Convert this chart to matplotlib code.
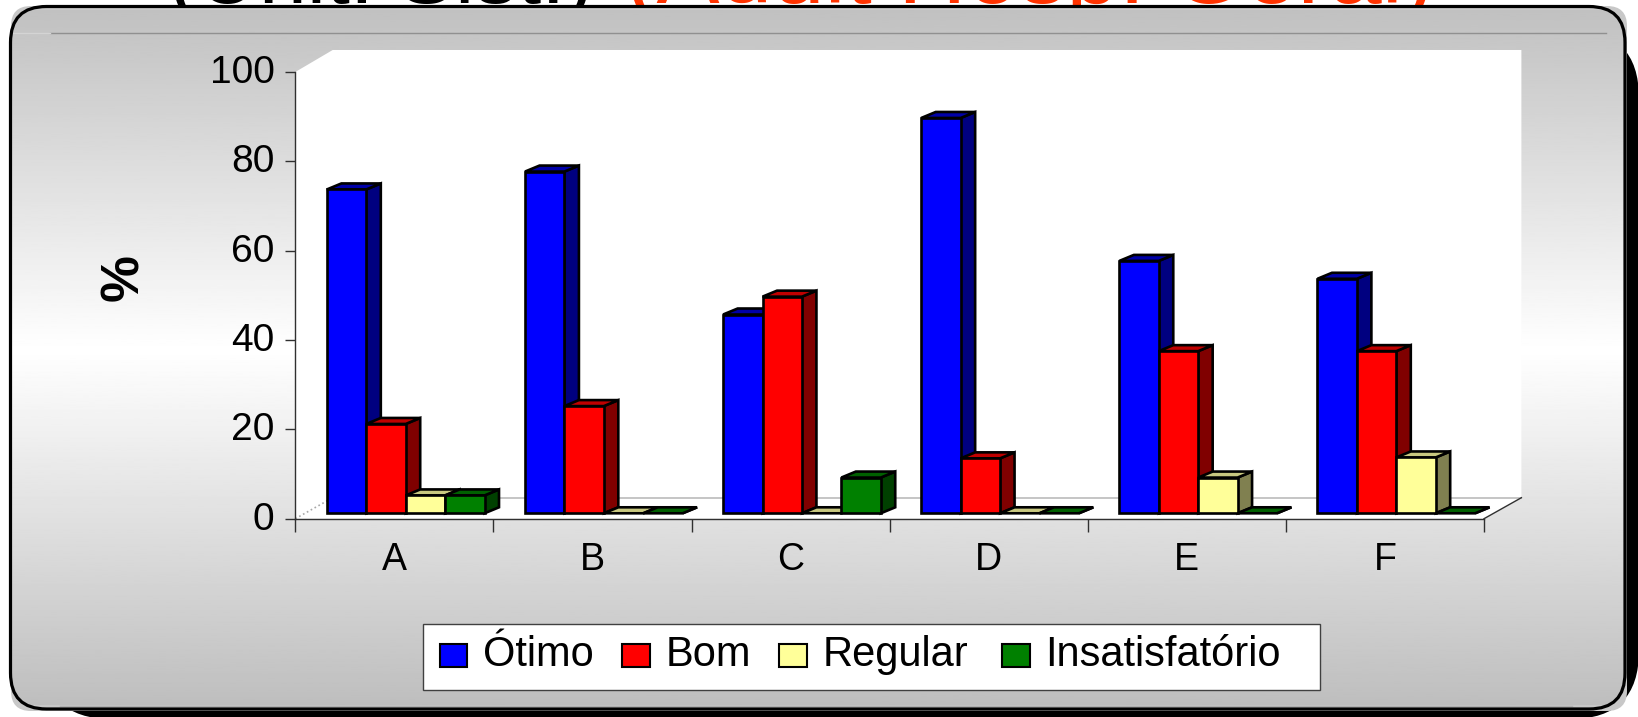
import numpy as np
import matplotlib
matplotlib.use("Agg")
import matplotlib.pyplot as plt
from matplotlib.patches import FancyBboxPatch, Polygon, Rectangle
from matplotlib.transforms import ScaledTranslation

plt.rcParams['font.family'] = ['Liberation Sans', 'DejaVu Sans']

# values
categories = ['A', 'B', 'C', 'D', 'E', 'F']
otimo = [72.5, 76.5, 44.5, 88.5, 56.5, 52.5]
bom = [20, 24, 48.5, 12.3, 36.3, 36.3]
regular = [4, 0, 0, 0, 8, 12.5]
insatisfatorio = [4, 0, 8, 0, 0, 0]
series_names = ['Ótimo', 'Bom', 'Regular', 'Insatisfatório']
y_ticks = [0, 20, 40, 60, 80, 100]

front_colors = ['#0000ff', '#ff0000', '#ffff99', '#008000']
side_colors = ['#000080', '#800000', '#808050', '#004000']
top_colors = ['#0000a8', '#c00000', '#c8c880', '#006000']

W, H = 1638, 717
fig = plt.figure(figsize=(W / 100, H / 100), dpi=100, facecolor='white')

# whole-figure axes in pixels, for the panel behind the chart
bg = fig.add_axes([0, 0, 1, 1])
bg.set_xlim(0, W)
bg.set_ylim(H, 0)
bg.axis('off')


def rounded(x0, y0, x1, y1, r, **kw):
    return FancyBboxPatch((x0 + r, y0 + r), x1 - x0 - 2 * r, y1 - y0 - 2 * r,
                          boxstyle='round,pad=%g,rounding_size=%g' % (r, r), **kw)


# title is cut off by the panel, only the feet of the letters show
bg.text(168, 3, '(Unit. Sist.)', fontsize=62, color='black', va='baseline', ha='left', zorder=1)
bg.text(625, 3, '(Adult Hosp. Geral)', fontsize=68, color='#ff3300', va='baseline', ha='left', zorder=1)

bg.add_patch(rounded(43, 30, 1639, 719, 68, fc='black', ec='none', zorder=2))
bg.add_patch(rounded(11, 6, 1627, 711, 20, fc='#c8c8c8', ec='none', zorder=3))
panel = rounded(10.5, 6.5, 1625, 709, 36, fc='none', ec='black', lw=2.3, zorder=6)
bg.add_patch(panel)

shade = 1 - np.abs(np.linspace(10, 705, 400)[:, None] - 350) / 345 * 0.247
grad = bg.imshow(shade, cmap='gray', vmin=0, vmax=1, extent=[0, W, 705, 10],
                 aspect='auto', zorder=4)
grad.set_clip_path(rounded(10.5, 6.5, 1625, 709, 36, transform=bg.transData))
bg.set_xlim(0, W)
bg.set_ylim(H, 0)

bg.plot([50, 1606], [33, 33], color='#909090', lw=1, zorder=5)
bg.plot([11, 50], [33, 33], color='#d4d4d4', lw=1, zorder=5)
bg.plot([60, 1572], [705.5, 705.5], color='#b0b0b0', lw=1, zorder=5)

bg.text(124, 278, '%', fontsize=38, fontweight='bold', rotation=90, ha='center', va='center', zorder=5)

# chart axes: front plane of the 3d box
left, right, y0, y100 = 295.3, 1484.0, 518.7, 72.0
ax = fig.add_axes([left / W, 1 - y0 / H, (right - left) / W, (y0 - y100) / H])
ax.set_xlim(0, len(categories))
ax.set_ylim(0, 100)
ax.patch.set_alpha(0)
for s in ['top', 'right']:
    ax.spines[s].set_visible(False)
for s in ['left', 'bottom']:
    ax.spines[s].set_color('#303030')
    ax.spines[s].set_linewidth(1)

px_x = (right - left) / len(categories)
px_y = (y0 - y100) / 100.0


def dx(px):
    return px / px_x


def dy(px):
    return px / px_y


# box walls
depth_x, depth_y = dx(37.4), dy(21)
ax.add_patch(Polygon([(0, 0), (0, 100), (depth_x, 100 + dy(22)), (6 + depth_x, 100 + dy(22)),
                      (6 + depth_x, depth_y), (6, 0)], fc='white', ec='none', clip_on=False, zorder=1))
ax.plot([depth_x, 6 + depth_x], [depth_y, depth_y], color='#c0c0c0', lw=1.3, clip_on=False, zorder=2)
ax.plot([0, depth_x], [0, depth_y], color='#a8a8a8', lw=1.2, ls=':', clip_on=False, zorder=2)
ax.plot([6, 6 + depth_x], [0, depth_y], color='#303030', lw=1, clip_on=False, zorder=2)

# bars drawn left to right so each one hides the side of the last
start = dx(31.6)
bar_w = dx(39.4)
base = dy(5.4)
bar_dx, bar_dy = dx(14.5), dy(6)
all_series = [otimo, bom, regular, insatisfatorio]
z = 3
for i in range(len(categories)):
    for j, vals in enumerate(all_series):
        x0 = i + start + j * bar_w
        x1 = x0 + bar_w
        top = base + vals[i]
        edge = dict(ec='black', lw=1.9, joinstyle='miter', clip_on=False, zorder=z)
        ax.add_patch(Polygon([(x1, base), (x1 + bar_dx, base + bar_dy), (x1 + bar_dx, top + bar_dy), (x1, top)],
                             fc=side_colors[j], **edge))
        ax.add_patch(Polygon([(x0, top), (x1, top), (x1 + bar_dx, top + bar_dy), (x0 + bar_dx, top + bar_dy)],
                             fc=top_colors[j], **edge))
        if vals[i] > 0:
            ax.add_patch(Rectangle((x0, base), bar_w, vals[i], fc=front_colors[j], **edge))
        z += 1

ax.set_yticks(y_ticks)
ax.tick_params(axis='y', length=7, width=1, color='#303030', labelsize=28, pad=8)
for label in ax.get_yticklabels():
    label.set_transform(label.get_transform() + ScaledTranslation(0, 0.03, fig.dpi_scale_trans))
ax.set_xticks(range(len(categories) + 1))
ax.tick_params(axis='x', which='major', length=9, width=1, color='#303030', labelbottom=False)
ax.set_xticks(np.arange(len(categories)) + 0.5, minor=True)
ax.set_xticklabels(categories, minor=True, fontsize=27)
ax.tick_params(axis='x', which='minor', length=0, pad=17)

# legend laid out by hand, the spacing is uneven in the original
bg.add_patch(Rectangle((423, 624), 897, 65.5, fc='white', ec='#404040', lw=1, zorder=7))
swatch_x = [439.6, 622, 779, 1002]
text_x = [482.7, 665.6, 823, 1045]
for j, name in enumerate(series_names):
    bg.add_patch(Rectangle((swatch_x[j], 643.5), 27.5, 23, fc=front_colors[j], ec='black', lw=1.5, zorder=8))
    bg.text(text_x[j], 666, name, fontsize=30, ha='left', va='baseline', zorder=8)

fig.savefig('out.png', dpi=100)
